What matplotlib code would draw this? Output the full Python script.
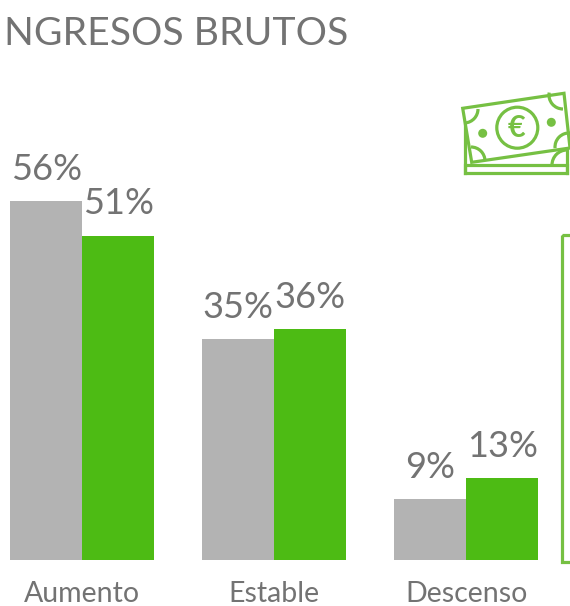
import matplotlib
matplotlib.use("Agg")
import matplotlib.pyplot as plt
from matplotlib.patches import Rectangle, Circle, Polygon, Arc
import numpy as np

categories = ["Aumento", "Estable", "Descenso"]
gray_values = [56.1, 34.5, 9.5]
green_values = [50.7, 36.1, 12.8]
gray_labels = ["56%", "35%", "9%"]
green_labels = ["51%", "36%", "13%"]
title = "NGRESOS BRUTOS"

W, H = 570, 606
GRAY = "#b3b3b3"
GREEN = "#4dbb14"
ICON = "#76c043"
TEXT = "#737373"
plt.rcParams["font.family"] = ["Lato", "DejaVu Sans"]

fig = plt.figure(figsize=(W / 100, H / 100), dpi=100)
fig.patch.set_facecolor("white")

# bar axes: baseline at y=560 px, 6.4 px per percent, 192 px per group
ax = fig.add_axes([0, (H - 560) / H, 1, 560 / H])
ax.set_xlim(-82.3 / 192, (W - 82.3) / 192)
ax.set_ylim(0, 560 / 6.4)
x = np.arange(len(categories))
bw = 72 / 192
ax.bar(x - bw / 2, gray_values, bw, color=GRAY)
ax.bar(x + bw / 2, green_values, bw, color=GREEN)
for i in x:
    ax.text(i - bw / 2, gray_values[i] + 3.3, gray_labels[i], ha="center",
            va="baseline", fontsize=26, color=TEXT)
    ax.text(i + bw / 2, green_values[i] + 3.3, green_labels[i], ha="center",
            va="baseline", fontsize=26, color=TEXT)
ax.set_xticks(x, categories)
ax.tick_params(axis="x", length=0, pad=15, labelsize=20.5, labelcolor=TEXT)
for s in ax.spines.values():
    s.set_visible(False)
ax.set_yticks([])
ax.patch.set_alpha(0)

# overlay in pixel coordinates for title and decorations
ov = fig.add_axes([0, 0, 1, 1])
ov.set_xlim(0, W)
ov.set_ylim(H, 0)
ov.axis("off")
ov.patch.set_alpha(0)
ov.text(4, 45, title, fontsize=28.2, color=TEXT, va="baseline", ha="left")

lw = 2.3
ov.add_patch(Rectangle((562, 235), 20, 327, fill=False, ec=ICON, lw=lw))
# money icon
ov.add_patch(Rectangle((465, 165), 102, 8, fill=False, ec=ICON, lw=lw))
ov.plot([465, 465], [113, 173], color=ICON, lw=lw)
ov.plot([567, 567], [148, 173], color=ICON, lw=lw)
bill = [(462.7, 108.3), (564, 93.3), (570, 148), (471.7, 162.3)]
ov.add_patch(Polygon(bill, closed=True, fc="white", ec=ICON, lw=lw, zorder=3))
ov.add_patch(Circle((517.3, 127.7), 20.5, fill=False, ec=ICON, lw=lw, zorder=4))
ov.add_patch(Circle((482.7, 133.3), 4.5, fc=ICON, ec="none", zorder=4))
ov.add_patch(Circle((551.3, 122.3), 4.5, fc=ICON, ec="none", zorder=4))
ov.text(516.5, 128, "€", fontsize=22, color=ICON, ha="center", va="center", zorder=5, fontweight="bold")
for cx, cy, th1, th2 in [(464, 109, 0, 85), (563, 95, 90, 190), (569, 147, 175, 275), (471, 161, 270, 360)]:
    ov.add_patch(Arc((cx, cy), 28, 28, theta1=th1, theta2=th2, ec=ICON, lw=lw, zorder=4))
ov.add_patch(Arc((567, 165), 30, 30, theta1=180, theta2=270, ec=ICON, lw=lw, zorder=2))

fig.savefig("out.png", dpi=100)
